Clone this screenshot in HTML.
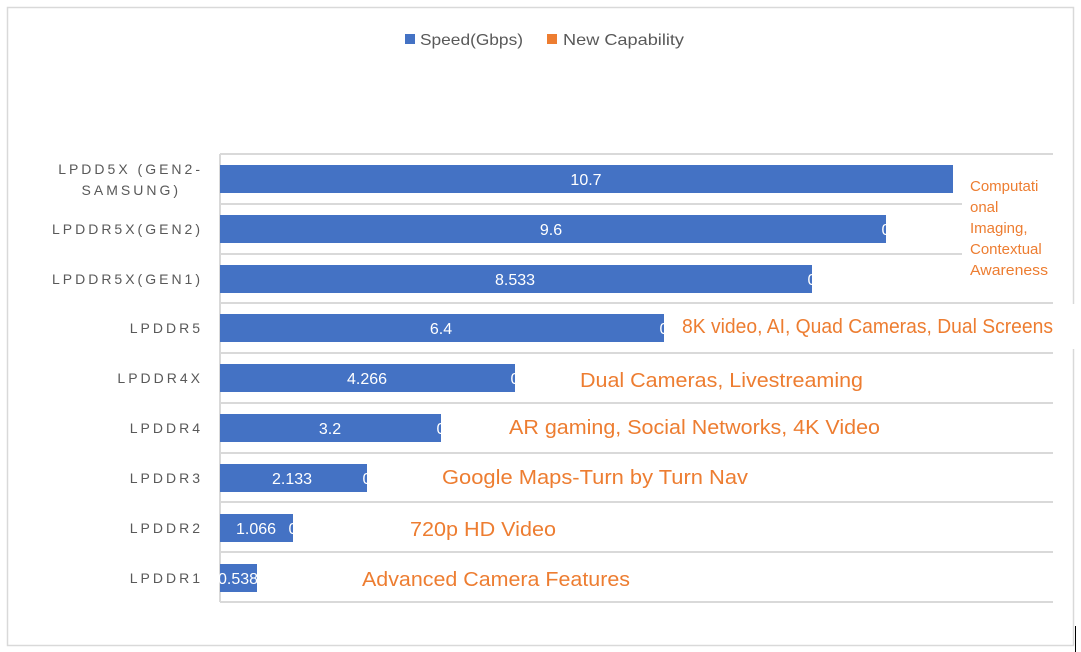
<!DOCTYPE html>
<html><head><meta charset="utf-8"><style>
html,body{margin:0;padding:0;background:#fff;}
svg{display:block;font-family:"Liberation Sans",sans-serif;}
</style></head><body>
<svg width="1081" height="652" viewBox="0 0 1081 652">
<rect x="7.5" y="7.5" width="1066" height="638" fill="#fff" stroke="#d9d9d9" stroke-width="1.5"/>
<!-- legend -->
<rect x="405" y="34" width="10" height="10" fill="#4472c4"/>
<text x="420" y="45" font-size="16" fill="#595959" textLength="103" lengthAdjust="spacingAndGlyphs">Speed(Gbps)</text>
<rect x="547" y="34" width="10" height="10" fill="#ed7d31"/>
<text x="563" y="45" font-size="16" fill="#595959" textLength="121" lengthAdjust="spacingAndGlyphs">New Capability</text>
<!-- gridlines -->
<g stroke="#d9d9d9" stroke-width="2">
<line x1="220" x2="1053" y1="154" y2="154"/>
<line x1="220" x2="1053" y1="204" y2="204"/>
<line x1="220" x2="1053" y1="254" y2="254"/>
<line x1="220" x2="1053" y1="303" y2="303"/>
<line x1="220" x2="1053" y1="353" y2="353"/>
<line x1="220" x2="1053" y1="403" y2="403"/>
<line x1="220" x2="1053" y1="453" y2="453"/>
<line x1="220" x2="1053" y1="502" y2="502"/>
<line x1="220" x2="1053" y1="552" y2="552"/>
<line x1="220" x2="1053" y1="602" y2="602"/>
<line x1="220" x2="220" y1="154" y2="602"/>
</g>
<!-- bars -->
<g fill="#4472c4">
<rect x="220" y="165" width="733" height="28"/>
<rect x="220" y="215" width="666" height="28"/>
<rect x="220" y="265" width="592" height="28"/>
<rect x="220" y="314" width="444" height="28"/>
<rect x="220" y="364" width="295" height="28"/>
<rect x="220" y="414" width="221" height="28"/>
<rect x="220" y="464" width="147" height="28"/>
<rect x="220" y="514" width="73" height="28"/>
<rect x="220" y="564" width="37" height="28"/>
</g>
<!-- label boxes -->
<rect x="962" y="160" width="94" height="124" fill="#fff"/>
<rect x="665" y="304" width="412" height="45" fill="#fff"/>
<!-- data labels -->
<g font-size="16" fill="#fff" text-anchor="middle">
<text x="586" y="185">10.7</text>
<text x="551" y="235">9.6</text>
<text x="515" y="285">8.533</text>
<text x="441" y="334">6.4</text>
<text x="367" y="384">4.266</text>
<text x="330" y="434">3.2</text>
<text x="292" y="484">2.133</text>
<text x="256" y="534">1.066</text>
<text x="238" y="584">0.538</text>
<text x="886" y="235">0</text>
<text x="812" y="285">0</text>
<text x="664" y="334">0</text>
<text x="515" y="384">0</text>
<text x="441" y="434">0</text>
<text x="367" y="484">0</text>
<text x="293" y="534">0</text>
</g>
<!-- category labels -->
<g font-size="14" fill="#595959" text-anchor="end" letter-spacing="3">
<text x="203" y="174">LPDD5X (GEN2-</text>
<text x="181" y="195">SAMSUNG)</text>
<text x="203" y="234">LPDDR5X(GEN2)</text>
<text x="203" y="284">LPDDR5X(GEN1)</text>
<text x="203" y="333">LPDDR5</text>
<text x="203" y="383">LPDDR4X</text>
<text x="203" y="433">LPDDR4</text>
<text x="203" y="483">LPDDR3</text>
<text x="203" y="533">LPDDR2</text>
<text x="203" y="583">LPDDR1</text>
</g>
<!-- capability labels -->
<g font-size="15" fill="#ed7d31">
<text x="970" y="191">Computati</text>
<text x="970" y="212">onal</text>
<text x="970" y="233">Imaging,</text>
<text x="970" y="254">Contextual</text>
<text x="970" y="275" textLength="78" lengthAdjust="spacingAndGlyphs">Awareness</text>
</g>
<g font-size="20" fill="#ed7d31">
<text x="682" y="333" textLength="371" lengthAdjust="spacingAndGlyphs">8K video, AI, Quad Cameras, Dual Screens</text>
<text x="580" y="387" textLength="283" lengthAdjust="spacingAndGlyphs">Dual Cameras, Livestreaming</text>
<text x="509" y="434" textLength="371" lengthAdjust="spacingAndGlyphs">AR gaming, Social Networks, 4K Video</text>
<text x="442" y="484" textLength="306" lengthAdjust="spacingAndGlyphs">Google Maps-Turn by Turn Nav</text>
<text x="410" y="536" textLength="146" lengthAdjust="spacingAndGlyphs">720p HD Video</text>
<text x="362" y="586" textLength="268" lengthAdjust="spacingAndGlyphs">Advanced Camera Features</text>
</g>
<line x1="1075.5" y1="626" x2="1075.5" y2="652" stroke="#000" stroke-width="1"/>
</svg>
</body></html>
